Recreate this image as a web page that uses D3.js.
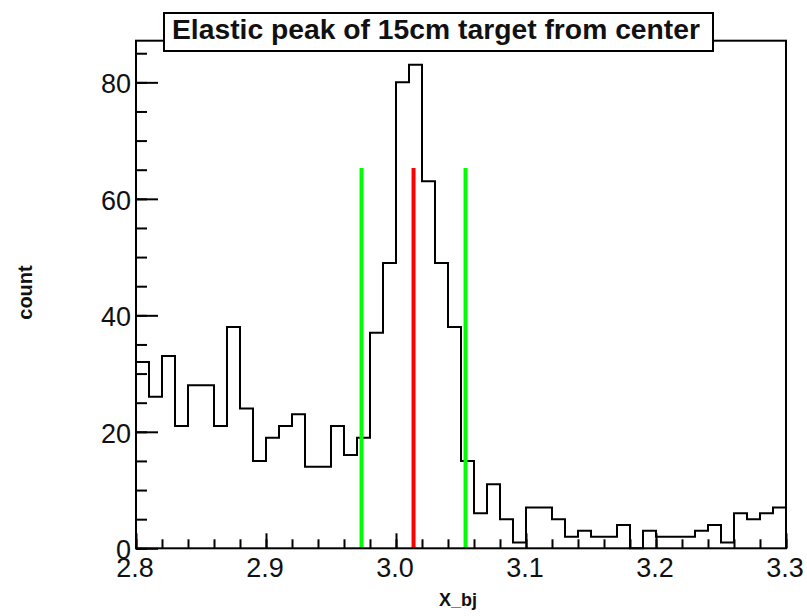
<!DOCTYPE html>
<html>
<head>
<meta charset="utf-8">
<script src="https://cdn.jsdelivr.net/npm/d3@7"></script>
<style>
  body { margin: 0; background: #fff; }
  text { font-family: "Liberation Sans", Arial, Helvetica, sans-serif; fill: #111; }
</style>
</head>
<body>
<div id="chart"></div>
<script>
// Histogram: 50 bins of width 0.01 from 2.8 to 3.3
const binStart = 2.8;
const binWidth = 0.01;
const counts = [
    32, 26, 33, 21, 28, 28, 21, 38, 24, 15,
    19, 21, 23, 14, 14, 21, 16, 19, 37, 49,
    80, 83, 63, 49, 38, 15, 6, 11, 5, 1,
    7, 7, 5, 2, 3, 2, 2, 4, 0, 3,
    2, 2, 2, 3, 4, 1, 6, 5, 6, 7
];

// Cut lines
const cutLines = [
    { x: 2.9735, color: '#00ff00' },
    { x: 3.0135, color: '#ff0000' },
    { x: 3.0535, color: '#00ff00' }
];
const cutHeight = 65.3;

const xTicks = [2.8, 2.9, 3.0, 3.1, 3.2, 3.3];
const yTicks = [0, 20, 40, 60, 80];

const titleText = 'Elastic peak of 15cm target from center';

const width = 807, height = 616;
const margin = { top: 40.7, right: 21, bottom: 67.7, left: 136 };

const svg = d3.select('#chart')
    .append('svg')
    .attr('width', width)
    .attr('height', height);

const x = d3.scaleLinear()
    .domain([2.8, 3.3])
    .range([margin.left, width - margin.right]);

const y = d3.scaleLinear()
    .domain([0, d3.max(counts) * 1.05])
    .range([height - margin.bottom, margin.top]);

// Step outline of the histogram
const pts = [];
counts.forEach((c, i) => {
    const lo = binStart + i * binWidth;
    pts.push([lo, c], [lo + binWidth, c]);
});

svg.append('path')
    .datum(pts)
    .attr('fill', 'none')
    .attr('stroke', '#000')
    .attr('stroke-width', 2)
    .attr('d', d3.line().x(d => x(d[0])).y(d => y(d[1])));

// Vertical cut lines
svg.selectAll('.cut')
    .data(cutLines)
    .enter()
    .append('line')
    .attr('x1', d => x(d.x))
    .attr('x2', d => x(d.x))
    .attr('y1', y(0))
    .attr('y2', y(cutHeight))
    .attr('stroke', d => d.color)
    .attr('stroke-width', 4);

// Frame
svg.append('rect')
    .attr('x', x(2.8))
    .attr('y', y.range()[1])
    .attr('width', x(3.3) - x(2.8))
    .attr('height', y(0) - y.range()[1])
    .attr('fill', 'none')
    .attr('stroke', '#000')
    .attr('stroke-width', 2);

// X ticks (inward), major every 0.1, minor every 0.02
const xMinor = d3.range(0, 26).map(i => 2.8 + i * 0.02);
svg.append('g')
    .attr('transform', `translate(0,${y(0)})`)
    .call(d3.axisTop(x).tickValues(xMinor).tickSize(9).tickFormat(''))
    .call(g => g.select('.domain').remove())
    .call(g => g.selectAll('line').attr('stroke-width', 2));

svg.append('g')
    .attr('transform', `translate(0,${y(0)})`)
    .call(d3.axisTop(x).tickValues(xTicks).tickSize(15).tickFormat(''))
    .call(g => g.select('.domain').remove())
    .call(g => g.selectAll('line').attr('stroke-width', 2));

svg.selectAll('.xlab')
    .data(xTicks)
    .enter()
    .append('text')
    .attr('x', d => x(d) - 1)
    .attr('y', y(0) + 29)
    .attr('text-anchor', 'middle')
    .attr('font-size', '27px')
    .text(d => d.toFixed(1));

// Y ticks (inward), major every 20, minor every 5
const yMinor = d3.range(0, 90, 5);
svg.append('g')
    .attr('transform', `translate(${x(2.8)},0)`)
    .call(d3.axisRight(y).tickValues(yMinor).tickSize(11).tickFormat(''))
    .call(g => g.select('.domain').remove())
    .call(g => g.selectAll('line').attr('stroke-width', 2));

svg.append('g')
    .attr('transform', `translate(${x(2.8)},0)`)
    .call(d3.axisRight(y).tickValues(yTicks).tickSize(22).tickFormat(''))
    .call(g => g.select('.domain').remove())
    .call(g => g.selectAll('line').attr('stroke-width', 2));

svg.selectAll('.ylab')
    .data(yTicks)
    .enter()
    .append('text')
    .attr('x', x(2.8) - 5)
    .attr('y', d => y(d) + 11)
    .attr('text-anchor', 'end')
    .attr('font-size', '27px')
    .text(d => d);

// Axis titles
svg.append('text')
    .attr('x', (x(2.8) + x(3.3)) / 2 - 3)
    .attr('y', 606)
    .attr('text-anchor', 'middle')
    .attr('font-size', '18px')
    .attr('font-weight', 'bold')
    .text('X_bj');

svg.append('text')
    .attr('transform', `translate(32,${(y.range()[0] + y.range()[1]) / 2 - 2}) rotate(-90)`)
    .attr('text-anchor', 'middle')
    .attr('font-size', '20px')
    .attr('font-weight', 'bold')
    .text('count');

// Title box
svg.append('rect')
    .attr('x', 164)
    .attr('y', 13)
    .attr('width', 549)
    .attr('height', 38)
    .attr('fill', '#fff')
    .attr('stroke', '#000')
    .attr('stroke-width', 2);

svg.append('text')
    .attr('x', 172)
    .attr('y', 39)
    .attr('font-size', '27px')
    .attr('font-weight', 'bold')
    .attr('textLength', 528)
    .attr('lengthAdjust', 'spacingAndGlyphs')
    .text(titleText);
</script>
</body>
</html>
